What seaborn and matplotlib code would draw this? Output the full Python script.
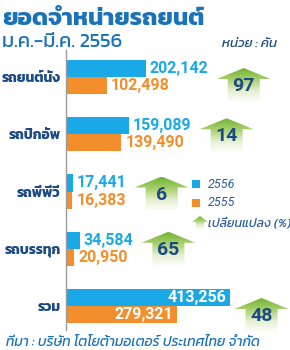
import matplotlib
matplotlib.use("Agg")
import matplotlib.pyplot as plt
from matplotlib.patches import Polygon, Rectangle
from matplotlib.colors import LinearSegmentedColormap
import numpy as np
import pandas as pd
import seaborn as sns

# ข้อมูล ยอดขาย ม.ค.-มี.ค. (คัน)
categories = ["รถยนต์นั่ง", "รถปิกอัพ", "รถพีพีวี", "รถบรรทุก", "รวม"]
sales_2556 = [202142, 159089, 17441, 34584, 413256]
sales_2555 = [102498, 139490, 16383, 20950, 279321]
change_pct = [97, 14, 6, 65, 48]
years = ["2556", "2555"]

BLUE = "#1aa9e6"
ORANGE = "#f28e2b"
NAVY = "#1c4a85"
TITLE = "#1b72b8"
LEG = "#2b5c9c"
THAI = ["Kanit", "DejaVu Sans"]
NUM = ["Roboto", "DejaVu Sans"]

sns.set_theme(style="white")
plt.rcParams["font.family"] = THAI

df = pd.DataFrame({
    "cat": categories * 2,
    "year": [years[0]] * len(categories) + [years[1]] * len(categories),
    "value": sales_2556 + sales_2555,
})

W, H = 290, 350
fig = plt.figure(figsize=(W / 100, H / 100), dpi=100)

x0 = 66
px_per_car = 80 / 202142
ax = fig.add_axes([x0 / W, 20 / H, (W - x0) / W, 280 / H])
sns.barplot(data=df, y="cat", x="value", hue="year", hue_order=years,
            palette=[BLUE, ORANGE], orient="h", width=0.6, saturation=1,
            linewidth=0, legend=False, ax=ax)
ax.set_xlim(0, (W - x0) / px_per_car)
ax.set_ylim(4.419, -0.472)
ax.set_xlabel("")
ax.set_ylabel("")
ax.set_xticks([])
for s in ["top", "right", "bottom"]:
    ax.spines[s].set_visible(False)
ax.spines["left"].set_color("#9a9a9a")
ax.spines["left"].set_linewidth(1)
ax.tick_params(axis="y", length=0, pad=4)
for lab in ax.get_yticklabels():
    lab.set_fontsize(10)
    lab.set_fontweight("bold")
    lab.set_color(NAVY)

# ป้ายตัวเลข
last = len(categories) - 1
labels = {}
for k, (cont, col) in enumerate(zip(ax.containers, [BLUE, ORANGE])):
    for i, bar in enumerate(cont):
        v = bar.get_width()
        yc = bar.get_y() + bar.get_height() / 2
        if i == last:
            t = ax.annotate(f"{v:,.0f}", (v, yc), xytext=(-3, 0), textcoords="offset pixels",
                            ha="right", va="center", color="white", fontsize=11.5,
                            fontweight="bold", family=NUM)
        else:
            t = ax.annotate(f"{v:,.0f}", (v, yc), xytext=(4, 0), textcoords="offset pixels",
                            ha="left", va="center", color=col, fontsize=11.5,
                            fontweight="bold", family=NUM)
        labels[(k, i)] = t

fig.canvas.draw()
rend = fig.canvas.get_renderer()

ov = fig.add_axes([0, 0, 1, 1])
ov.set_xlim(0, W)
ov.set_ylim(H, 0)
ov.axis("off")

cmap = LinearSegmentedColormap.from_list("g", ["#72b232", "#a9d16f", "#e6f0d2", "#ffffff"])
grad = np.linspace(0, 1, 64).reshape(-1, 1)


def up_arrow(cx, top, head_h, half_w, shaft_w, shaft_h):
    base = top + head_h
    pts = [(cx, top), (cx + half_w, base), (cx + shaft_w, base), (cx + shaft_w, base + shaft_h),
           (cx - shaft_w, base + shaft_h), (cx - shaft_w, base), (cx - half_w, base)]
    poly = Polygon(pts, closed=True, facecolor="none", edgecolor="none")
    ov.add_patch(poly)
    im = ov.imshow(grad, cmap=cmap, aspect="auto", interpolation="bilinear",
                   extent=(cx - half_w, cx + half_w, base + shaft_h, top))
    im.set_clip_path(poly)


arrow_dy = [5, -2, -1, -3, 6]
for i, pct in enumerate(change_pct):
    cy = H - ax.transData.transform((0, i))[1]
    if i == last:
        end = ax.transData.transform((sales_2556[i], 0))[0] + 32
    else:
        end = max(labels[(0, i)].get_window_extent(rend).x1,
                  labels[(1, i)].get_window_extent(rend).x1) + 35
    top = cy - 14 + arrow_dy[i]
    up_arrow(end, top, 11, 27, 16, 24)
    ov.text(end, cy + 4 + arrow_dy[i], str(pct), ha="center", va="center", fontsize=14,
            fontweight="bold", color=NAVY, family=NUM)
ov.set_xlim(0, W)
ov.set_ylim(H, 0)

# คำอธิบาย
ov.add_patch(Rectangle((192, 180), 8, 8, color=BLUE, lw=0))
ov.add_patch(Rectangle((192, 199), 8, 8, color=ORANGE, lw=0))
up_arrow(200, 216, 6, 8, 4, 8)
ov.text(208, 184, years[0], ha="left", va="center", fontsize=9, style="italic", color=LEG, family=NUM)
ov.text(208, 203, years[1], ha="left", va="center", fontsize=9, style="italic", color=LEG, family=NUM)
ov.text(208, 223, "เปลี่ยนแปลง (%)", ha="left", va="center", fontsize=9, style="italic", color=LEG)

# หัวเรื่อง
ov.text(2, 25, "ยอดจำหน่ายรถยนต์", ha="left", va="baseline", fontsize=17.5, fontweight="bold", color=TITLE)
ov.text(2, 47, "ม.ค.-มี.ค. 2556", ha="left", va="baseline", fontsize=14.5, color=TITLE)
ov.text(277, 47, "หน่วย : คัน", ha="right", va="baseline", fontsize=9.5, style="italic", color=NAVY)
ov.text(6, 346, "ที่มา : บริษัท โตโยต้ามอเตอร์ ประเทศไทย จำกัด", ha="left", va="baseline",
        fontsize=10, style="italic", color=TITLE)

fig.savefig("out.png", dpi=100)
